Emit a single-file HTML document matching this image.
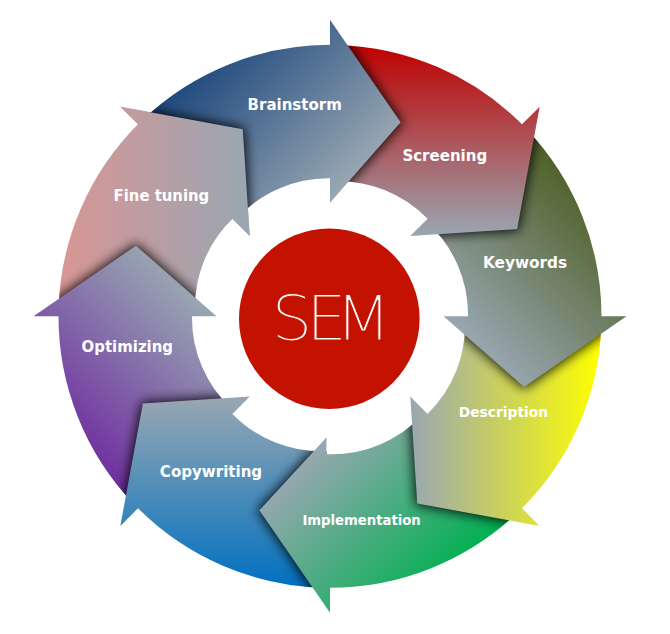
<!DOCTYPE html>
<html lang="en"><head><meta charset="utf-8"><title>SEM cycle</title>
<style>html,body{margin:0;padding:0;background:#fff;}body{width:670px;height:634px;overflow:hidden;}svg{display:block;}.lb{font-family:"DejaVu Sans","Liberation Sans",sans-serif;font-weight:bold;fill:#fff;text-anchor:middle;}.sem{font-family:"DejaVu Sans Light","DejaVu Sans","Liberation Sans",sans-serif;font-weight:200;fill:#fff;text-anchor:middle;}</style></head><body>
<svg width="670" height="634" viewBox="0 0 670 634">
<defs>
<linearGradient id="g0" gradientUnits="userSpaceOnUse" x1="131.2" y1="131.2" x2="266.4" y2="266.4"><stop offset="0" stop-color="#1f497d"/><stop offset="0.5" stop-color="#5c7898"/><stop offset="1" stop-color="#99a7b2"/></linearGradient>
<path id="a0" d="M143.11 119.36 A271.50 271.50 0 0 1 330.00 44.80 L330.00 19.80 L400.63 122.25 L330.00 202.80 L330.00 178.30 A124.00 124.00 0 0 0 237.07 218.37 Z"/>
<clipPath id="c0"><use href="#a0"/></clipPath>
<linearGradient id="g1" gradientUnits="userSpaceOnUse" x1="0.0" y1="44.8" x2="0.0" y2="236.0"><stop offset="0" stop-color="#c00000"/><stop offset="0.5" stop-color="#ac5459"/><stop offset="1" stop-color="#99a7b2"/></linearGradient>
<path id="a1" d="M337.11 44.89 A271.50 271.50 0 0 1 521.98 124.32 L539.66 106.64 L517.15 229.03 L410.26 236.04 L427.58 218.72 A124.00 124.00 0 0 0 333.53 181.35 Z"/>
<clipPath id="c1"><use href="#a1"/></clipPath>
<linearGradient id="g2" gradientUnits="userSpaceOnUse" x1="198.8" y1="-198.8" x2="63.6" y2="-63.6"><stop offset="0" stop-color="#4f6228"/><stop offset="0.5" stop-color="#74846d"/><stop offset="1" stop-color="#99a7b2"/></linearGradient>
<path id="a2" d="M526.94 129.41 A271.50 271.50 0 0 1 601.50 316.30 L626.50 316.30 L524.05 386.93 L443.50 316.30 L468.00 316.30 A124.00 124.00 0 0 0 427.93 223.37 Z"/>
<clipPath id="c2"><use href="#a2"/></clipPath>
<linearGradient id="g3" gradientUnits="userSpaceOnUse" x1="601.5" y1="-0.0" x2="410.3" y2="-0.0"><stop offset="0" stop-color="#ffff00"/><stop offset="0.5" stop-color="#ccd359"/><stop offset="1" stop-color="#99a7b2"/></linearGradient>
<path id="a3" d="M601.41 323.41 A271.50 271.50 0 0 1 521.98 508.28 L539.66 525.96 L417.27 503.45 L410.26 396.56 L427.58 413.88 A124.00 124.00 0 0 0 464.95 319.83 Z"/>
<clipPath id="c3"><use href="#a3"/></clipPath>
<linearGradient id="g4" gradientUnits="userSpaceOnUse" x1="515.1" y1="515.1" x2="379.9" y2="379.9"><stop offset="0" stop-color="#00b050"/><stop offset="0.5" stop-color="#4cac81"/><stop offset="1" stop-color="#99a7b2"/></linearGradient>
<path id="a4" d="M516.89 513.24 A271.50 271.50 0 0 1 330.00 587.80 L330.00 612.80 L259.37 510.35 L326.62 437.25 L326.15 454.25 A124.00 124.00 0 0 0 422.93 414.23 Z"/>
<clipPath id="c4"><use href="#a4"/></clipPath>
<linearGradient id="g5" gradientUnits="userSpaceOnUse" x1="-0.0" y1="587.8" x2="-0.0" y2="396.6"><stop offset="0" stop-color="#0070c0"/><stop offset="0.5" stop-color="#4c8cb9"/><stop offset="1" stop-color="#99a7b2"/></linearGradient>
<path id="a5" d="M322.89 587.71 A271.50 271.50 0 0 1 138.02 508.28 L120.34 525.96 L142.85 403.57 L249.74 396.56 L232.42 413.88 A124.00 124.00 0 0 0 326.47 451.25 Z"/>
<clipPath id="c5"><use href="#a5"/></clipPath>
<linearGradient id="g6" gradientUnits="userSpaceOnUse" x1="-185.1" y1="185.1" x2="-49.9" y2="49.9"><stop offset="0" stop-color="#7030a0"/><stop offset="0.5" stop-color="#846ca9"/><stop offset="1" stop-color="#99a7b2"/></linearGradient>
<path id="a6" d="M133.06 503.19 A271.50 271.50 0 0 1 58.50 316.30 L33.50 316.30 L135.95 245.67 L216.50 316.30 L192.00 316.30 A124.00 124.00 0 0 0 232.07 409.23 Z"/>
<clipPath id="c6"><use href="#a6"/></clipPath>
<linearGradient id="g7" gradientUnits="userSpaceOnUse" x1="58.5" y1="0.0" x2="249.7" y2="0.0"><stop offset="0" stop-color="#d99694"/><stop offset="0.5" stop-color="#b99ea3"/><stop offset="1" stop-color="#99a7b2"/></linearGradient>
<path id="a7" d="M58.59 309.19 A271.50 271.50 0 0 1 138.02 124.32 L120.34 106.64 L242.73 129.15 L249.74 236.04 L232.42 218.72 A124.00 124.00 0 0 0 195.05 312.77 Z"/>
<clipPath id="c7"><use href="#a7"/></clipPath>
<filter id="sh" x="-20%" y="-20%" width="140%" height="140%"><feGaussianBlur stdDeviation="6"/></filter>
<clipPath id="ch7"><path d="M263.12 256.08 L92.19 102.18 L155.72 47.93 L225.82 13.73 L300.70 231.20 Z"/></clipPath>
</defs>
<use href="#a7" fill="url(#g7)"/>
<g clip-path="url(#c7)"><use href="#a6" fill="#000" stroke="#000" stroke-width="3.4" opacity="0.88" filter="url(#sh)"/></g>
<use href="#a6" fill="url(#g6)"/>
<g clip-path="url(#c6)"><use href="#a5" fill="#000" stroke="#000" stroke-width="3.4" opacity="0.88" filter="url(#sh)"/></g>
<use href="#a5" fill="url(#g5)"/>
<g clip-path="url(#c5)"><use href="#a4" fill="#000" stroke="#000" stroke-width="3.4" opacity="0.88" filter="url(#sh)"/></g>
<use href="#a4" fill="url(#g4)"/>
<g clip-path="url(#c4)"><use href="#a3" fill="#000" stroke="#000" stroke-width="3.4" opacity="0.88" filter="url(#sh)"/></g>
<use href="#a3" fill="url(#g3)"/>
<g clip-path="url(#c3)"><use href="#a2" fill="#000" stroke="#000" stroke-width="3.4" opacity="0.88" filter="url(#sh)"/></g>
<use href="#a2" fill="url(#g2)"/>
<g clip-path="url(#c2)"><use href="#a1" fill="#000" stroke="#000" stroke-width="3.4" opacity="0.88" filter="url(#sh)"/></g>
<use href="#a1" fill="url(#g1)"/>
<g clip-path="url(#c1)"><use href="#a0" fill="#000" stroke="#000" stroke-width="3.4" opacity="0.88" filter="url(#sh)"/></g>
<use href="#a0" fill="url(#g0)"/>
<g clip-path="url(#c0)"><use href="#a7" fill="#000" stroke="#000" stroke-width="3.4" opacity="0.88" filter="url(#sh)"/></g>
<g clip-path="url(#ch7)"><use href="#a7" fill="url(#g7)"/></g>
<circle cx="329.3" cy="318.7" r="90.3" fill="#c41200"/>
<text class="sem" style="text-anchor:start" transform="scale(1.05,1)" x="258.4 291.4 319.4" y="339.6" font-size="62" stroke="#c41200" stroke-width="1.15">SEM</text>
<text class="lb" x="294.7" y="110.1" font-size="15.17" textLength="94.2" lengthAdjust="spacingAndGlyphs">Brainstorm</text>
<text class="lb" x="444.8" y="160.5" font-size="15.17" textLength="84.8" lengthAdjust="spacingAndGlyphs">Screening</text>
<text class="lb" x="525.1" y="268.1" font-size="15.33" textLength="84.1" lengthAdjust="spacingAndGlyphs">Keywords</text>
<text class="lb" x="503.4" y="416.9" font-size="14.11" textLength="89.5" lengthAdjust="spacingAndGlyphs">Description</text>
<text class="lb" x="361.6" y="524.8" font-size="13.30" textLength="118.4" lengthAdjust="spacingAndGlyphs">Implementation</text>
<text class="lb" x="211.0" y="476.8" font-size="15.12" textLength="102.3" lengthAdjust="spacingAndGlyphs">Copywriting</text>
<text class="lb" x="127.3" y="352.0" font-size="15.12" textLength="91.4" lengthAdjust="spacingAndGlyphs">Optimizing</text>
<text class="lb" x="161.4" y="201.3" font-size="15.12" textLength="95.6" lengthAdjust="spacingAndGlyphs">Fine tuning</text>
</svg></body></html>
